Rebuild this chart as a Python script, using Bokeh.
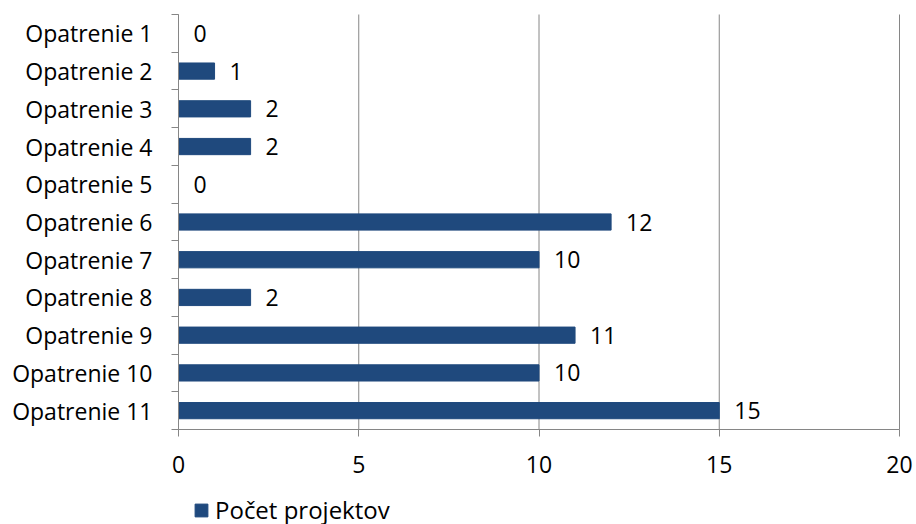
from bokeh.plotting import figure
from bokeh.models import (ColumnDataSource, Range1d, FixedTicker, LinearAxis,
                          Legend, LegendItem)
from bokeh.core.properties import value
from bokeh.embed import file_html
from bokeh.resources import INLINE

categories = ["Opatrenie 1", "Opatrenie 2", "Opatrenie 3", "Opatrenie 4", "Opatrenie 5",
              "Opatrenie 6", "Opatrenie 7", "Opatrenie 8", "Opatrenie 9", "Opatrenie 10",
              "Opatrenie 11"]
values = [0, 1, 2, 2, 0, 12, 10, 2, 11, 10, 15]
x_ticks = [0, 5, 10, 15, 20]
series_name = "Počet projektov"

FONT = "Open Sans"
FS = "23px"
BAR = "#1F497D"
GRAY = "#868686"
W, H = 916, 524
# pixel box of the category area inside the canvas
PX_LEFT, PX_RIGHT, PX_TOP, PX_BOTTOM = 178, 899, 14, 429

n = len(categories)
x_min, x_max = x_ticks[0], x_ticks[-1]
positions = list(range(n))
source = ColumnDataSource(data=dict(
    y=positions, x=values, label=[str(v) for v in values]))
grid_src = ColumnDataSource(data=dict(x=x_ticks, y0=[-0.5] * len(x_ticks),
                                      y1=[n - 0.5] * len(x_ticks)))

# the frame fills the whole canvas; ranges are widened so that the
# category area sits where the chart's plot area is
ux = (PX_RIGHT - PX_LEFT) / (x_max - x_min)
uy = (PX_BOTTOM - PX_TOP) / n
x_range = Range1d(x_min - PX_LEFT / ux, x_max + (W - PX_RIGHT) / ux)
y_range = Range1d(n - 0.5 + (H - PX_BOTTOM) / uy, -0.5 - PX_TOP / uy)

p = figure(width=W, height=H, output_backend="svg", toolbar_location=None,
           x_range=x_range, y_range=y_range,
           x_axis_location=None, y_axis_location=None, min_border=0)
p.outline_line_color = None
p.background_fill_color = "white"
p.border_fill_color = "white"
p.grid.grid_line_color = None

# vertical gridlines at the x ticks, limited to the category area
p.segment(x0="x", x1="x", y0="y0", y1="y1", source=grid_src,
          line_color=GRAY, line_width=1)

bars = p.hbar(y="y", right="x", left=0, height=0.43, source=source,
              fill_color=BAR, line_color=BAR)

p.text(x="x", y="y", text="label", source=source, x_offset=15,
       text_align="left", text_baseline="middle",
       text_font=value(FONT), text_font_size=FS, text_color="black")

# x axis at the bottom edge of the category area
xaxis = LinearAxis(fixed_location=n - 0.5, ticker=FixedTicker(ticks=x_ticks),
                   bounds=(x_min, x_max))
xaxis.axis_line_color = GRAY
xaxis.major_tick_line_color = GRAY
xaxis.major_tick_out = 7
xaxis.major_tick_in = 0
xaxis.minor_tick_line_color = None
xaxis.major_label_text_font = FONT
xaxis.major_label_text_font_size = FS
xaxis.major_label_text_color = "black"
xaxis.major_label_standoff = 19
p.add_layout(xaxis, "below")

# y axis at x = 0, ticks between the categories
yaxis = LinearAxis(fixed_location=x_min,
                   ticker=FixedTicker(ticks=positions,
                                      minor_ticks=[i - 0.5 for i in range(n + 1)]),
                   bounds=(-0.5, n - 0.5))
yaxis.major_label_overrides = {i: c for i, c in enumerate(categories)}
yaxis.axis_line_color = GRAY
yaxis.major_tick_line_color = None
yaxis.major_tick_out = 0
yaxis.major_tick_in = 0
yaxis.minor_tick_line_color = GRAY
yaxis.minor_tick_out = 7
yaxis.minor_tick_in = 0
yaxis.major_label_text_font = FONT
yaxis.major_label_text_font_size = FS
yaxis.major_label_text_color = "black"
yaxis.major_label_standoff = 19
p.add_layout(yaxis, "left")

legend = Legend(items=[LegendItem(label=series_name, renderers=[bars])],
                location=(193, -2), orientation="horizontal",
                glyph_width=16, glyph_height=16, label_standoff=6,
                padding=0, margin=0, spacing=0,
                border_line_color=None, background_fill_alpha=0,
                label_text_font=FONT, label_text_font_size="24px",
                label_text_color="black", label_height=16)
p.add_layout(legend, "center")

open("out.html", "w").write(file_html(p, INLINE))
